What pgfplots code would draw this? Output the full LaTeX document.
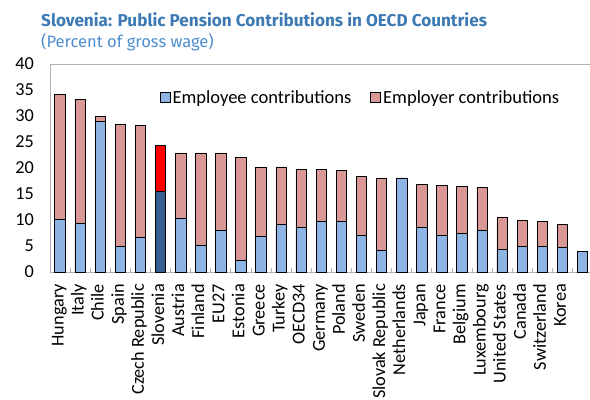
\documentclass[border=0pt]{standalone}
\usepackage{pgfplots}
\pgfplotsset{compat=1.18}
\usepackage{pgfplotstable}
\usepackage{fontspec}
\setmainfont{Carlito}
\newfontfamily\titlefont{Fira Sans}
\definecolor{empc}{HTML}{8DB4E2}
\definecolor{erc}{HTML}{D99795}
\definecolor{slovemp}{HTML}{376092}
\definecolor{slover}{HTML}{FF0000}
\definecolor{titleblue}{HTML}{3D7AB3}
\definecolor{subblue}{HTML}{4D8ED0}
\pgfplotstableread{
idx emp tot
0 10.2 34.2
1 9.3 33.2
2 29.0 30.0
3 4.9 28.4
4 6.6 28.2
5 15.5 24.4
6 10.4 22.9
7 5.2 22.9
8 8.1 22.9
9 2.2 22.1
10 6.8 20.2
11 9.1 20.2
12 8.5 19.8
13 9.8 19.8
14 9.8 19.6
15 7.1 18.4
16 4.1 18.1
17 18.1 18.1
18 8.5 16.9
19 7.0 16.7
20 7.5 16.5
21 8.1 16.2
22 4.3 10.6
23 5.0 10.0
24 5.0 9.8
25 4.7 9.1
26 3.9 3.9
}\data
\pgfplotstableread{
idx emp tot
5 15.5 24.4
}\slov
\begin{document}
\begin{tikzpicture}
\path[use as bounding box] (0,0) rectangle (590bp,-400bp);
\node[anchor=base west, font=\titlefont\bfseries\fontsize{17.2}{20}\selectfont, text=titleblue, inner sep=0] at (41bp,-26bp) {Slovenia: Public Pension Contributions in OECD Countries};
\node[anchor=base west, font=\titlefont\fontsize{16.6}{20}\selectfont, text=subblue, inner sep=0] at (41bp,-47bp) {(Percent of gross wage)};
\begin{axis}[
  at={(50bp,-272bp)}, anchor=south west,
  scale only axis, width=540bp, height=208bp,
  xmin=-0.5, xmax=26.37, ymin=0, ymax=40,
  ytick={0,5,...,40},
  xtick={0,...,26},
  xticklabels={Hungary,Italy,Chile,Spain,Czech Republic,Slovenia,Austria,Finland,EU27,Estonia,Greece,Turkey,OECD34,Germany,Poland,Sweden,Slovak Republic,Netherlands,Japan,France,Belgium,Luxembourg,United States,Canada,Switzerland,Korea,{}},
  /pgf/number format/assume math mode=true,
  axis line style={draw=black!30, line width=0.8pt},
  major tick length=0pt,
  minor x tick num=1,
  minor tick length=4bp,
  tick align=inside,
  xtick pos=left, ytick pos=left,
  minor tick style={draw=black!30, line width=0.8pt},
  yticklabel style={font=\fontsize{18.3}{20}\selectfont, inner sep=0pt, anchor=east, xshift=-16bp},
  xticklabel style={font=\fontsize{18.3}{20}\selectfont, inner sep=0pt, yshift=-12bp, xshift=1bp, rotate=90, anchor=east, text height=0.7em, text depth=0.2em},
  legend style={at={(0.575,0.837)}, anchor=center, draw=none, fill=none,
    font=\fontsize{18.6}{20}\selectfont, legend columns=2,
    /tikz/every even column/.append style={column sep=17bp},
    nodes={inner sep=2bp}},
  legend image code/.code={\draw[#1, line width=0.8pt] (0bp,-4.5bp) rectangle (10bp,5.5bp);},
  clip=false
]
\addlegendimage{fill=empc, draw=black}
\addlegendentry{Employee contributions}
\addlegendimage{fill=erc, draw=black}
\addlegendentry{Employer contributions}
\addplot[ybar, bar width=0.52, fill=erc, draw=black, line width=0.7pt, forget plot] table[x=idx, y=tot] {\data};
\addplot[ybar, bar width=0.52, fill=empc, draw=black, line width=0.7pt, forget plot] table[x=idx, y=emp] {\data};
\addplot[ybar, bar width=0.52, fill=slover, draw=black, line width=0.7pt, forget plot] table[x=idx, y=tot] {\slov};
\addplot[ybar, bar width=0.52, fill=slovemp, draw=black, line width=0.7pt, forget plot] table[x=idx, y=emp] {\slov};
\end{axis}
\end{tikzpicture}
\end{document}
